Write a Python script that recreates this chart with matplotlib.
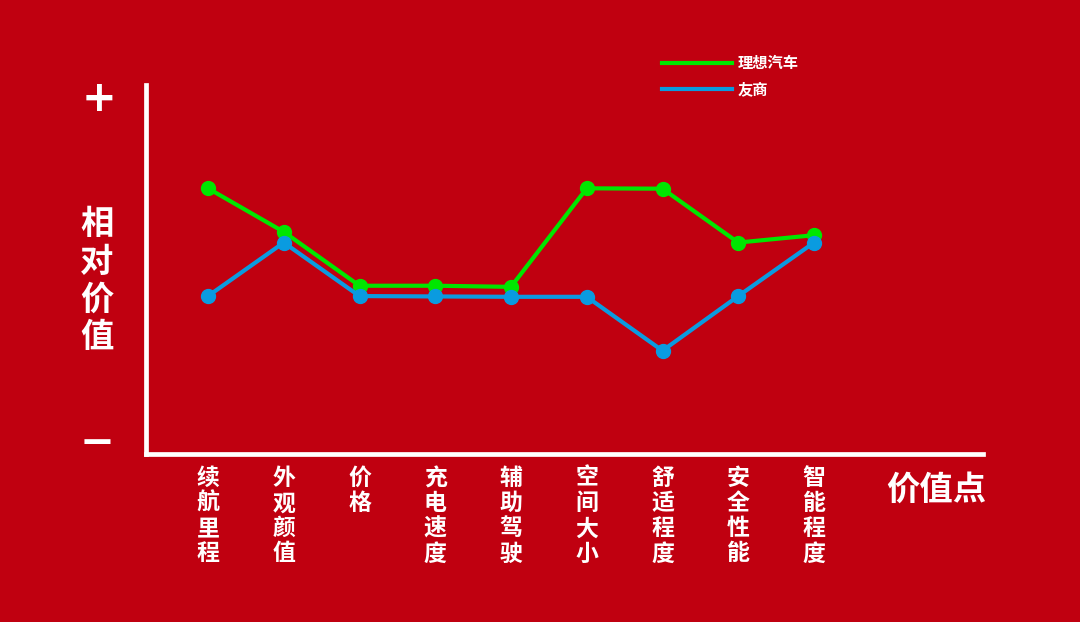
import matplotlib
matplotlib.use("Agg")
import matplotlib.pyplot as plt
from matplotlib.lines import Line2D
from matplotlib.transforms import blended_transform_factory

plt.rcParams['font.family'] = ['Noto Sans CJK SC', 'DejaVu Sans']

# value points (x axis) and relative value (arbitrary 0-10 scale)
categories = ["续航里程", "外观颜值", "价格", "充电速度", "辅助驾驶",
              "空间大小", "舒适程度", "安全性能", "智能程度"]
lixiang = [7.20, 6.02, 4.56, 4.56, 4.53, 7.20, 7.19, 5.73, 5.93]
rivals = [4.28, 5.73, 4.28, 4.27, 4.26, 4.26, 2.80, 4.28, 5.73]
series_names = ["理想汽车", "友商"]

bg = "#C00010"
green = "#00E600"
blue = "#0A9BE0"
W, H = 1080, 622

fig = plt.figure(figsize=(W / 100, H / 100), dpi=100, facecolor=bg)
ax = fig.add_axes([146 / W, (H - 454) / H, (983 - 146) / W, (454 - 85) / H])
ax.set_facecolor(bg)

x = list(range(len(categories)))
ax.plot(x, lixiang, color=green, lw=3, marker='o', ms=10, zorder=3)
ax.plot(x, rivals, color=blue, lw=3, marker='o', ms=10, zorder=4)

step = (814 - 208) / 8
ax.set_xlim(-(208 - 146) / step, 8 + (983 - 814) / step)
ax.set_ylim(0, 10)

for side in ['top', 'right']:
    ax.spines[side].set_visible(False)
for side in ['left', 'bottom']:
    ax.spines[side].set_color('white')
    ax.spines[side].set_linewidth(3.4)
ax.set_xticks([])
ax.set_yticks([])

# vertical category labels under the axis
tr = blended_transform_factory(ax.transData, fig.transFigure)
for i, name in enumerate(categories):
    ax.text(i, 1 - 467 / H, "\n".join(name), transform=tr, ha='center', va='top',
            color='white', fontsize=16.5, fontweight='bold', linespacing=1.12)

# axis titles and +/- marks
fig.text(97 / W, 1 - 281 / H, "\n".join("相对价值"), ha='center', va='center',
         color='white', fontsize=24, fontweight='bold', linespacing=1.17)
fig.text(936 / W, 1 - 490 / H, "价值点", ha='center', va='center',
         color='white', fontsize=24, fontweight='bold')
fig.text(99 / W, 1 - 99 / H, "+", ha='center', va='center',
         color='white', fontsize=30, fontweight='bold', family='DejaVu Sans')
fig.text(97 / W, 1 - 443 / H, "−", ha='center', va='center',
         color='white', fontsize=30, fontweight='bold', family='DejaVu Sans')

handles = [Line2D([], [], color=green, lw=3), Line2D([], [], color=blue, lw=3)]
leg = fig.legend(handles, series_names, loc='upper left',
                 bbox_to_anchor=(662 / W, 1 - 55 / H), frameon=False,
                 borderpad=0, borderaxespad=0, handlelength=4.6, handletextpad=0.35,
                 labelspacing=0.7, prop={'size': 11, 'weight': 'bold'})
for t in leg.get_texts():
    t.set_color('white')

fig.savefig("out.png", dpi=100, facecolor=bg)
